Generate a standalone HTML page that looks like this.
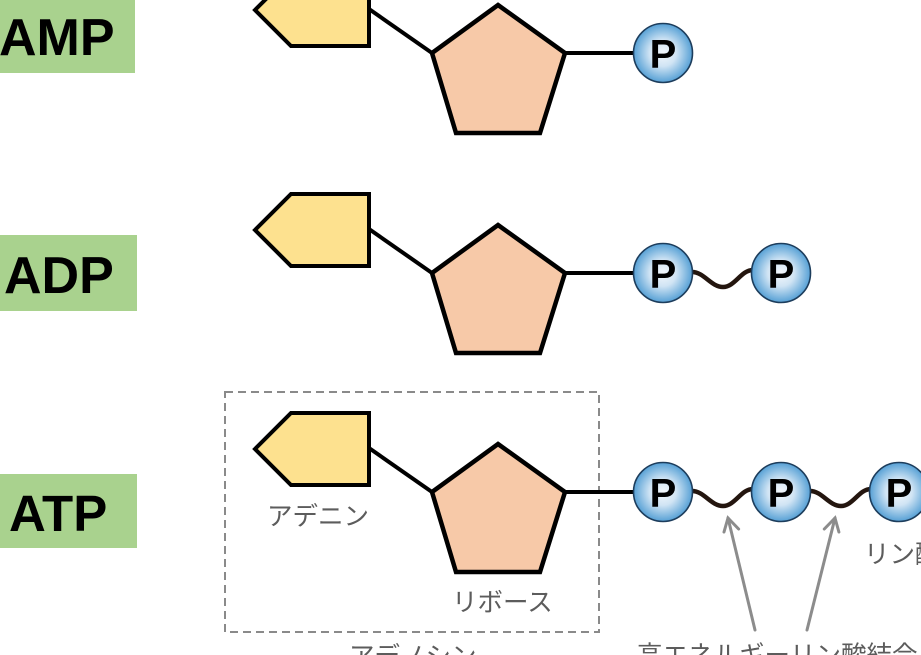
<!DOCTYPE html>
<html><head><meta charset="utf-8"><style>
html,body{margin:0;padding:0;background:#fff;width:921px;height:655px;overflow:hidden}
svg{display:block}
.lbl{font-family:"Liberation Sans",Arial,sans-serif;font-weight:bold;fill:#000}
.jp{font-family:"Liberation Sans","Noto Sans CJK JP",sans-serif;fill:#5c5c5c;font-size:25.5px}
.p{font-family:"Liberation Sans",Arial,sans-serif;font-weight:bold;font-size:40px;fill:#000}
</style></head><body>
<svg width="921" height="655" viewBox="0 0 921 655" xmlns="http://www.w3.org/2000/svg">
<defs>
<radialGradient id="pg" cx="50%" cy="50%" r="50%">
<stop offset="0" stop-color="#f4f8fc"/>
<stop offset="0.45" stop-color="#d0e4f4"/>
<stop offset="1" stop-color="#56a0d5"/>
</radialGradient>
<g id="nuc">
<line x1="369" y1="9" x2="432" y2="53" stroke="#000" stroke-width="4"/>
<polygon points="255,10 291,-26 369,-26 369,46 291,46" fill="#fde18f" stroke="#000" stroke-width="4" stroke-linejoin="miter"/>
<polygon points="498,5 565,53 540,133 456,133 432,53" fill="#f7c9a8" stroke="#000" stroke-width="4.5" stroke-linejoin="miter"/>
<line x1="565" y1="53" x2="634" y2="53" stroke="#000" stroke-width="4"/>
</g>
<g id="pc">
<circle cx="0" cy="0" r="29.5" fill="url(#pg)" stroke="#1d3d5c" stroke-width="1.6"/>
<text x="0" y="14.5" class="p" text-anchor="middle">P</text>
</g>
<path id="wave" d="M692,-1 C704,-1 711,14 723,14 C735,14 741,-3 753,-3" fill="none" stroke="#24160f" stroke-width="4.5"/>
</defs>

<!-- labels -->
<rect x="0" y="-2" width="135" height="75" fill="#a9d28e"/>
<text x="-1" y="55" class="lbl" font-size="52">AMP</text>
<rect x="0" y="235" width="137" height="76" fill="#a9d28e"/>
<text x="4" y="293" class="lbl" font-size="52">ADP</text>
<rect x="0" y="474" width="137" height="74" fill="#a9d28e"/>
<text x="9" y="531" class="lbl" font-size="51">ATP</text>

<!-- AMP -->
<use href="#nuc"/>
<use href="#pc" x="663" y="53"/>

<!-- ADP -->
<use href="#nuc" y="220"/>
<use href="#wave" y="273"/>
<use href="#pc" x="663" y="273"/>
<use href="#pc" x="781" y="273"/>

<!-- ATP -->
<rect x="225" y="392" width="374" height="240" fill="none" stroke="#8a8a8a" stroke-width="2" stroke-dasharray="8,5"/>
<use href="#nuc" y="439"/>
<use href="#wave" y="492"/>
<use href="#wave" x="118" y="492"/>
<use href="#pc" x="663" y="492"/>
<use href="#pc" x="781" y="492"/>
<use href="#pc" x="899" y="492"/>

<!-- arrows -->
<g stroke="#8c8c8c" stroke-width="3" fill="none" stroke-linecap="round">
<line x1="755" y1="630" x2="728" y2="518"/>
<polyline points="724,532 728,518 738.6,529"/>
<line x1="807" y1="630" x2="835" y2="518"/>
<polyline points="824.3,529 835,518 838.9,532"/>
</g>

<!-- Japanese labels -->
<text x="267" y="525" class="jp">アデニン</text>
<text x="452" y="611" class="jp">リボース</text>
<text x="864" y="563" class="jp">リン酸</text>
<text x="349" y="665" class="jp">アデノシン</text>
<text x="637" y="664" class="jp">高エネルギーリン酸結合</text>
</svg>
</body></html>
